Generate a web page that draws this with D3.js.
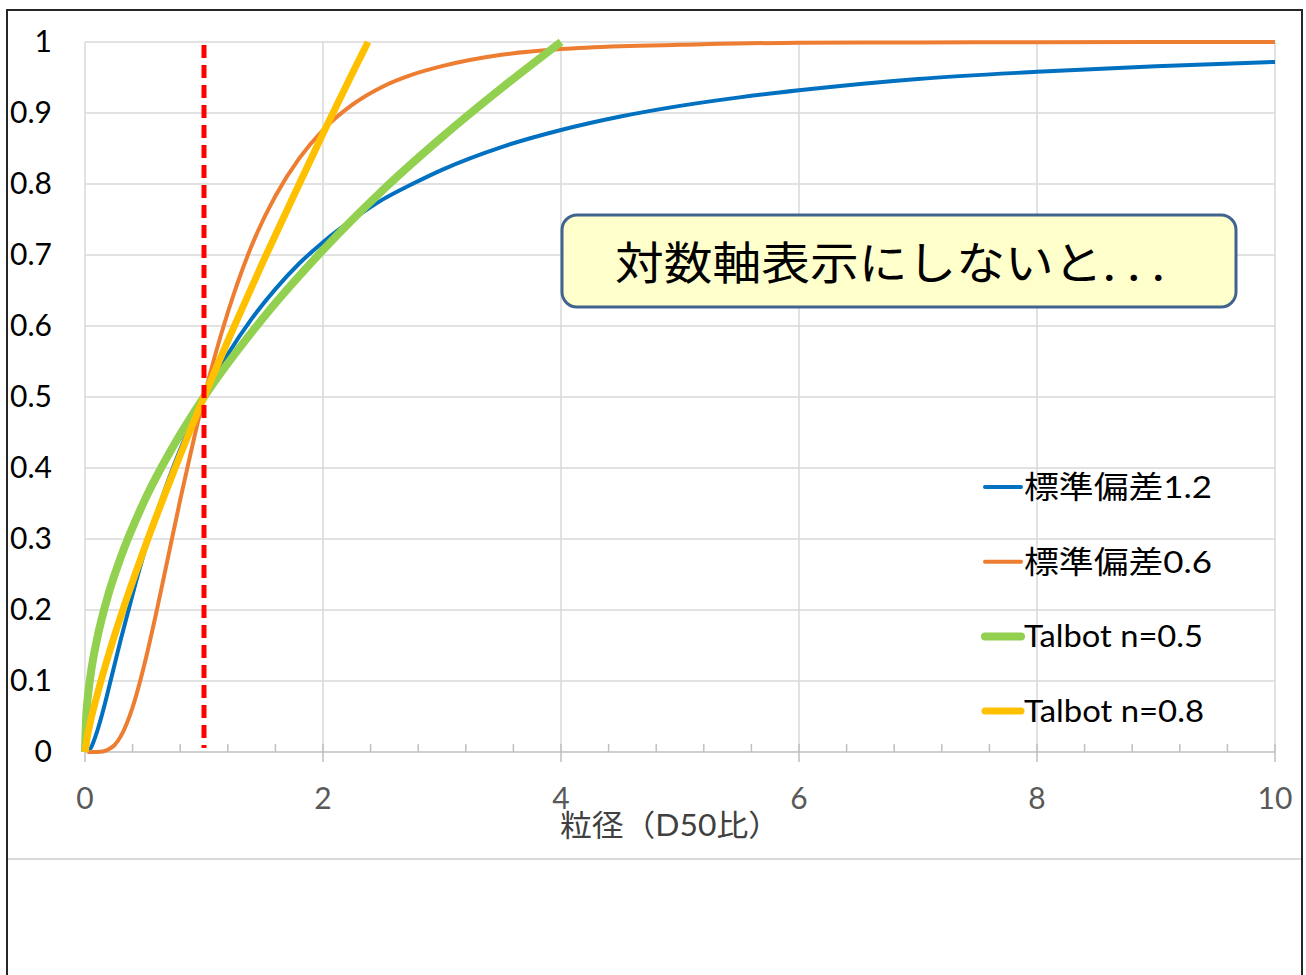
<!DOCTYPE html>
<html>
<head>
<meta charset="utf-8">
<script src="https://cdn.jsdelivr.net/npm/d3@7"></script>
<style>
  html, body { margin: 0; padding: 0; background: #fff; }
  svg { display: block; }
  text { font-family: "Lato", "Noto Sans CJK JP", sans-serif; }
</style>
</head>
<body>
<svg id="chart" width="1306" height="975"></svg>
<script>
// Cumulative particle size distributions (x = size relative to D50)
const xTicks = [0, 2, 4, 6, 8, 10];
const yTicks = [0, 0.1, 0.2, 0.3, 0.4, 0.5, 0.6, 0.7, 0.8, 0.9, 1];
const yTickLabels = ["0", "0.1", "0.2", "0.3", "0.4", "0.5", "0.6", "0.7", "0.8", "0.9", "1"];

const seriesNames = ["標準偏差1.2", "標準偏差0.6", "Talbot n=0.5", "Talbot n=0.8"];

// log-normal, sigma 1.2
const blueX = [0.02, 0.05, 0.1, 0.15, 0.2, 0.3, 0.4, 0.5, 0.6, 0.7, 0.8, 0.9, 1.0, 1.2, 1.4, 1.6, 1.8, 2.0, 2.25, 2.5, 2.75, 3.0, 3.5, 4.0, 4.5, 5.0, 5.5, 6.0, 7.0, 8.0, 9.0, 10.0];
const blueY = [0.0005, 0.006, 0.028, 0.057, 0.090, 0.158, 0.222, 0.282, 0.335, 0.383, 0.426, 0.465, 0.500, 0.560, 0.610, 0.652, 0.688, 0.718, 0.750, 0.778, 0.800, 0.820, 0.852, 0.876, 0.895, 0.910, 0.922, 0.932, 0.948, 0.958, 0.966, 0.972];

// log-normal, sigma 0.6
const orangeX = [0.02, 0.1, 0.15, 0.2, 0.25, 0.3, 0.4, 0.5, 0.6, 0.7, 0.8, 0.9, 1.0, 1.2, 1.4, 1.6, 1.8, 2.0, 2.25, 2.5, 2.75, 3.0, 3.5, 4.0, 4.5, 5.0, 6.0, 7.0, 8.0, 10.0];
const orangeY = [0.0, 0.0001, 0.0008, 0.004, 0.010, 0.022, 0.063, 0.124, 0.197, 0.276, 0.355, 0.430, 0.500, 0.619, 0.713, 0.783, 0.836, 0.876, 0.912, 0.937, 0.954, 0.966, 0.982, 0.990, 0.994, 0.996, 0.999, 0.9994, 0.9997, 1.0];

// Talbot distribution, n = 0.5
const greenX = [0.0, 0.01, 0.02, 0.05, 0.1, 0.2, 0.3, 0.5, 0.75, 1.0, 1.5, 2.0, 2.5, 3.0, 3.5, 4.0];
const greenY = [0.0, 0.050, 0.071, 0.112, 0.158, 0.224, 0.274, 0.354, 0.433, 0.500, 0.612, 0.707, 0.791, 0.866, 0.935, 1.0];

// Talbot distribution, n = 0.8
const yellowX = [0.0, 0.02, 0.05, 0.1, 0.2, 0.3, 0.5, 0.75, 1.0, 1.25, 1.5, 1.75, 2.0, 2.25, 2.378];
const yellowY = [0.0, 0.022, 0.046, 0.079, 0.138, 0.191, 0.287, 0.397, 0.500, 0.598, 0.692, 0.782, 0.871, 0.957, 1.0];

const refX = 1; // D50 marker
const noteText = "対数軸表示にしないと. . .";
const xTitle = "粒径（D50比）";

const colors = ["#0070C0", "#ED7D31", "#92D050", "#FFC000"];
const widths = [4, 4, 8, 7];
const legendTextWidths = [188, 188, 179, 180];

const svg = d3.select("#chart");

// outer frame
svg.append("rect").attr("x", 7).attr("y", 10).attr("width", 1295).attr("height", 980)
  .attr("fill", "#fff").attr("stroke", "#262626").attr("stroke-width", 2);
svg.append("line").attr("x1", 8).attr("x2", 1301).attr("y1", 859).attr("y2", 859)
  .attr("stroke", "#D9D9D9").attr("stroke-width", 2);

const x = d3.scaleLinear().domain([0, 10]).range([85, 1275]);
const y = d3.scaleLinear().domain([0, 1]).range([752, 42]);

// horizontal gridlines
svg.append("g").selectAll("line").data(yTicks.slice(1)).join("line")
  .attr("x1", x(0)).attr("x2", x(10))
  .attr("y1", d => y(d)).attr("y2", d => y(d))
  .attr("stroke", "#D9D9D9").attr("stroke-width", 1.5);

// vertical gridlines
svg.append("g").selectAll("line").data(xTicks).join("line")
  .attr("x1", d => x(d)).attr("x2", d => x(d))
  .attr("y1", y(1)).attr("y2", y(0))
  .attr("stroke", "#D9D9D9").attr("stroke-width", 1.5);

// x axis with inside minor ticks and crossing major ticks
const minorTicks = d3.range(0, 10.001, 0.4).filter(v => Math.abs(v / 2 - Math.round(v / 2)) > 1e-6);
svg.append("line").attr("x1", x(0)).attr("x2", x(10)).attr("y1", y(0)).attr("y2", y(0))
  .attr("stroke", "#BFBFBF").attr("stroke-width", 1.5);
svg.append("g").selectAll("line").data(minorTicks).join("line")
  .attr("x1", d => x(d)).attr("x2", d => x(d))
  .attr("y1", y(0) - 8).attr("y2", y(0))
  .attr("stroke", "#BFBFBF").attr("stroke-width", 1.5);
svg.append("g").selectAll("line").data(xTicks).join("line")
  .attr("x1", d => x(d)).attr("x2", d => x(d))
  .attr("y1", y(0) - 8).attr("y2", y(0) + 10)
  .attr("stroke", "#BFBFBF").attr("stroke-width", 1.5);

// tick labels
svg.append("g").selectAll("text").data(xTicks).join("text")
  .attr("x", d => x(d)).attr("y", 809)
  .attr("text-anchor", "middle").attr("font-size", 30).attr("fill", "#595959")
  .text(d => d);
svg.append("g").selectAll("text").data(yTicks).join("text")
  .attr("x", 52).attr("y", d => y(d) + 10)
  .attr("text-anchor", "end").attr("font-size", 30).attr("fill", "#000")
  .text((d, i) => yTickLabels[i]);

// axis title
svg.append("text").attr("x", 560).attr("y", 836)
  .attr("font-size", 30).attr("fill", "#404040")
  .attr("textLength", 220).attr("lengthAdjust", "spacingAndGlyphs")
  .text(xTitle);

// curves
const seriesData = [
  d3.zip(blueX, blueY),
  d3.zip(orangeX, orangeY),
  d3.zip(greenX, greenY),
  d3.zip(yellowX, yellowY)
];
const line = d3.line().x(d => x(d[0])).y(d => y(d[1])).curve(d3.curveMonotoneX);
svg.append("g").selectAll("path").data(seriesData).join("path")
  .attr("d", line)
  .attr("fill", "none")
  .attr("stroke", (d, i) => colors[i])
  .attr("stroke-width", (d, i) => widths[i])
  .attr("stroke-linejoin", "round");

// D50 marker
svg.append("line").attr("x1", x(refX)).attr("x2", x(refX))
  .attr("y1", 45).attr("y2", 748)
  .attr("stroke", "#FF0000").attr("stroke-width", 5).attr("stroke-dasharray", "13,7");

// note box
svg.append("rect").attr("x", 562).attr("y", 215).attr("width", 674).attr("height", 92)
  .attr("rx", 15).attr("fill", "#FFFFCC").attr("stroke", "#41648F").attr("stroke-width", 3);
svg.append("text").attr("x", 615).attr("y", 280)
  .attr("font-size", 45).attr("fill", "#000")
  .attr("textLength", 550).attr("lengthAdjust", "spacingAndGlyphs")
  .style("font-family", "'Noto Sans CJK JP', sans-serif")
  .text(noteText);

// legend
const legend = svg.append("g").selectAll("g").data(seriesNames).join("g")
  .attr("transform", (d, i) => `translate(0, ${487 + i * 74.7})`);
legend.append("line").attr("x1", 985).attr("x2", 1021).attr("y1", 0).attr("y2", 0)
  .attr("stroke", (d, i) => colors[i])
  .attr("stroke-width", (d, i) => widths[i])
  .attr("stroke-linecap", "round");
legend.append("text").attr("x", 1024).attr("y", 11)
  .attr("font-size", 31).attr("fill", "#000")
  .attr("textLength", (d, i) => legendTextWidths[i]).attr("lengthAdjust", "spacingAndGlyphs")
  .text(d => d);
</script>
</body>
</html>
